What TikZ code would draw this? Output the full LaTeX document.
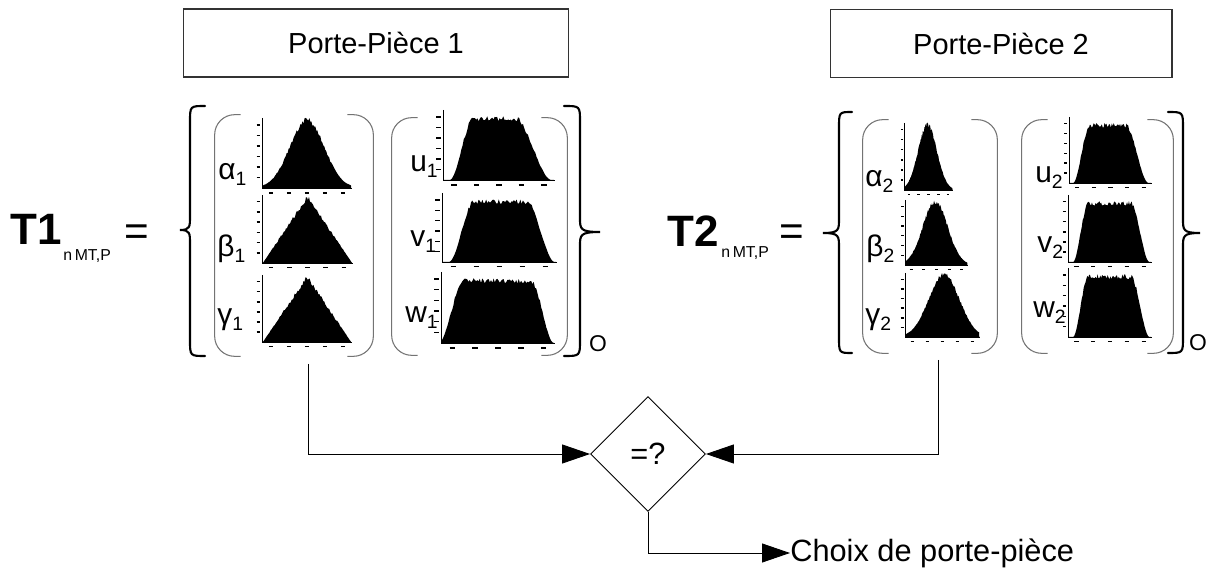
\documentclass[tikz,border=0pt]{standalone}
\usepackage{fontspec}
\setmainfont{Liberation Sans}
\usepackage{tikz}
\usetikzlibrary{
  arrows.meta, shapes.geometric,
  positioning, calc
}
\tikzset{
  declare function={
    ramp(\r)=min(1,max(0,\r));
    sstep(\r)=3*ramp(\r)^2-2*ramp(\r)^3;
    plat(\p,\qa,\qb,\qc,\qd)=sstep((\p-\qa)/(\qb-\qa))*sstep((\qd-\p)/(\qd-\qc));
    bell(\p,\qm,\qs)=exp(-((\p-\qm)/\qs)^2);
    peak(\p)=max(0,1-abs(\p-0.5)/0.49);
  },
  holder/.style={
    rectangle, draw=black!80, line width=0.6pt,
    minimum height=1.36cm,
    font=\fontsize{16.5}{18}\selectfont
  },
  tname/.style={anchor=base west, inner sep=0, font=\fontsize{25}{28}\selectfont\bfseries},
  tsub/.style={anchor=base west, inner sep=0, font=\fontsize{9}{10}\selectfont},
  eqsign/.style={inner sep=0, font=\fontsize{24}{26}\selectfont},
  varname/.style={anchor=base west, inner sep=0, font=\fontsize{17}{18}\selectfont},
  osub/.style={inner sep=0, font=\fontsize{13}{14}\selectfont},
  group/.style={rectangle, inner sep=0, draw=none},
  paren/.style={draw=black!55, line width=0.6pt, rounded corners=0.4cm},
  brace/.style={line width=1.2pt, line cap=round},
  decision/.style={
    diamond, draw, line width=0.5pt, aspect=1,
    minimum width=2.3cm, minimum height=2.3cm, inner sep=0,
    font=\fontsize{17.5}{18}\selectfont
  },
  arrow/.style={-{Triangle[length=5.6mm, width=3.8mm]}, line width=0.5pt},
  result/.style={anchor=west, inner sep=0, font=\fontsize{17.5}{18}\selectfont}
}
% variable name with its index
\newcommand{\vsub}[2]{#1\raisebox{-3pt}{\fontsize{11}{12}\selectfont #2}}
% one histogram: left, bottom, width, height, shape in \x
\newcommand{\histo}[5]{%
  \begin{scope}[shift={(#1,#2)}, x={(#3*0.02cm,0)}, y={(0,#4*0.02cm)}]
    \fill plot[domain=0.01:0.99, samples=90] (\x,{(#5)*(0.97+0.04*rand)})
      -- (0.99,0) -- (0.01,0) -- cycle;
    \draw[line width=0.5pt] (0,1) -- (0,0) -- (1,0);
    \foreach \k in {0.15,0.3,...,0.91}
      \draw[line width=0.8pt] (-0.06,\k) -- (-0.02,\k);
    \foreach \k in {0.1,0.3,0.5,0.7,0.9}
      \draw[line width=0.7pt] (\k-0.025,-0.07) -- (\k+0.025,-0.07);
  \end{scope}}
% a pair of parentheses round a group
\newcommand{\parpair}[1]{%
  \draw[paren] ($(#1.north west)+(26,0)$) -- (#1.north west)
    -- (#1.south west) -- ($(#1.south west)+(26,0)$);
  \draw[paren] ($(#1.north east)+(-26,0)$) -- (#1.north east)
    -- (#1.south east) -- ($(#1.south east)+(-26,0)$);}
% a curly brace: end x, stem x, tip x, top y, tip y, bottom y
\newcommand{\curly}[6]{%
  \draw[brace] (#1,#4) .. controls (#2,#4) .. (#2,#4+16)
    -- (#2,#5-14) .. controls (#2,#5-3) and (#2,#5) .. (#3,#5)
    .. controls (#2,#5) and (#2,#5+3) .. (#2,#5+14)
    -- (#2,#6-16) .. controls (#2,#6) .. (#1,#6);}

\begin{document}
\begin{tikzpicture}[x=0.02cm, y=-0.02cm]
\useasboundingbox (0,0) rectangle (1208,574);

% Part holders
\node[holder, minimum width=7.72cm] (pp1) at (376,43) {Porte-Pièce 1};
\node[holder, minimum width=6.84cm] (pp2) at (1001,43.5) {Porte-Pièce 2};

% T1
\node[tname] (t1) at (10,245) {T1};
\node[tsub] (t1sub) at (63,261) {n\,MT,P};
\node[eqsign] (eq1) at (137,235) {=};
\curly{205}{190}{180}{106}{230}{356}
\curly{564}{580}{600}{106}{232}{356}
\node[osub] (o1) at (598,344) {O};

\node[group, minimum width=3.16cm, minimum height=4.82cm] (grpA1) at (294,235.5) {};
\node[group, minimum width=3.5cm, minimum height=4.74cm] (grpB1) at (479.5,236.5) {};
\parpair{grpA1}
\parpair{grpB1}

\node[varname] (al1) at (218,180) {\vsub{α}{1}};
\node[varname] (be1) at (217,257) {\vsub{β}{1}};
\node[varname] (ga1) at (217,325) {\vsub{γ}{1}};
\histo{262}{188}{90}{70}{bell(\x,0.5,0.27)}
\histo{262}{263}{91}{68}{peak(\x)}
\histo{262}{342}{90}{67}{peak(\x)}

\node[varname] (u1) at (410,172) {\vsub{u}{1}};
\node[varname] (v1) at (410,247) {\vsub{v}{1}};
\node[varname] (w1) at (405,323) {\vsub{w}{1}};
\histo{443}{180}{112}{70}{0.9*plat(\x,0.06,0.27,0.65,0.97)}
\histo{442}{262}{115}{69}{0.9*plat(\x,0.06,0.28,0.74,0.98)}
\histo{441}{343}{114}{71}{0.9*plat(\x,-0.02,0.2,0.79,0.99)}

% T2
\node[tname] (t2) at (667,247) {T2};
\node[tsub] (t2sub) at (721,258) {n\,MT,P};
\node[eqsign] (eq2) at (792,235) {=};
\curly{852}{839}{823}{112}{233}{353}
\curly{1168}{1183}{1200}{112}{233}{353}
\node[osub] (o2) at (1198,343) {O};

\node[group, minimum width=2.68cm, minimum height=4.66cm] (grpA2) at (930,236.5) {};
\node[group, minimum width=3.02cm, minimum height=4.66cm] (grpB2) at (1097.5,236.5) {};
\parpair{grpA2}
\parpair{grpB2}

\node[varname] (al2) at (865,187) {\vsub{α}{2}};
\node[varname] (be2) at (866,257) {\vsub{β}{2}};
\node[varname] (ga2) at (865,325) {\vsub{γ}{2}};
\histo{904}{190}{49}{67}{bell(\x,0.48,0.27)}
\histo{905}{265}{63}{65}{bell(\x,0.48,0.28)}
\histo{905}{337}{75}{64}{bell(\x,0.52,0.29)}

\node[varname] (u2) at (1035,183) {\vsub{u}{2}};
\node[varname] (v2) at (1037,253) {\vsub{v}{2}};
\node[varname] (w2) at (1033,318) {\vsub{w}{2}};
\histo{1069}{183}{83}{66}{0.9*plat(\x,0.05,0.25,0.68,0.96)}
\histo{1068}{262}{84}{67}{0.9*plat(\x,0.06,0.24,0.75,0.97)}
\histo{1068}{337}{84}{69}{0.9*plat(\x,0.06,0.24,0.75,0.97)}

% Comparison
\node[decision] (cmp) at (648,454) {=?};
\node[result] (choix) at (790,553) {Choix de porte-pièce};
\coordinate (outA1) at (308,364);
\coordinate (outA2) at (938,360);

\draw[arrow] (outA1) |- (cmp.west);
\draw[arrow] (outA2) |- (cmp.east);
\draw[arrow] (cmp.south) |- (choix.west);

\end{tikzpicture}
\end{document}
